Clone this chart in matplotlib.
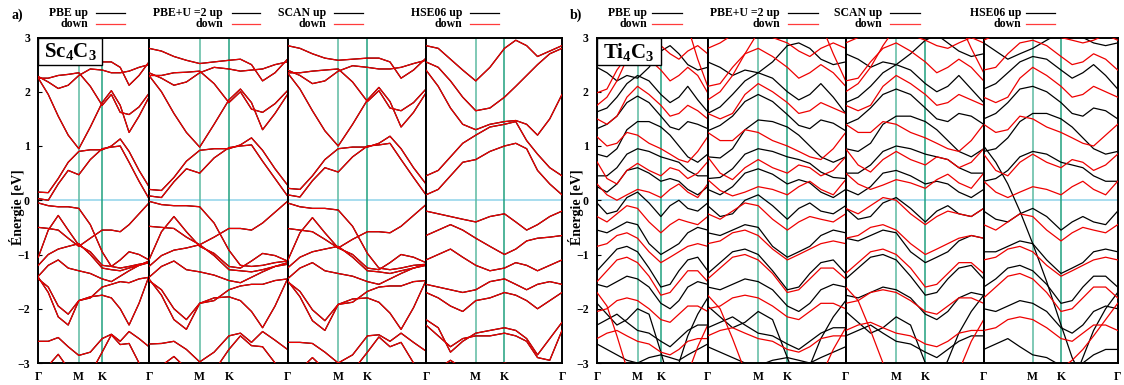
import matplotlib.pyplot as plt
from matplotlib.lines import Line2D
from matplotlib.patches import Rectangle

plt.rcParams['font.family'] = ['Liberation Serif', 'DejaVu Serif']
plt.rcParams['font.weight'] = 'bold'
plt.rcParams['mathtext.fontset'] = 'custom'
plt.rcParams['mathtext.rm'] = 'Liberation Serif:bold'
plt.rcParams['mathtext.it'] = 'Liberation Serif:bold'
plt.rcParams['mathtext.bf'] = 'Liberation Serif:bold'

W, H = 1124, 385

# k-path Γ-M-K-Γ, normalised length
kpath = [0.0, 0.09, 0.18, 0.27, 0.366, 0.47, 0.577, 0.66, 0.74, 0.82, 0.91, 1.0]
k_ticks = [0.0, 0.366, 0.577, 1.0]
k_names = ['Γ', 'M', 'K', 'Γ']
methods = ['PBE', 'PBE+U =2', 'SCAN', 'HSE06']

# Sc4C3 (non magnetic: up == down)
sc_pbe = [
    [2.75, 2.72, 2.62, 2.55, 2.50, 2.52, 2.55, 2.55, 2.45, 2.12, 2.30, 2.55],
    [2.28, 2.18, 2.06, 2.12, 2.30, 2.42, 2.40, 2.35, 2.35, 2.38, 2.45, 2.50],
    [2.25, 1.95, 1.55, 1.20, 0.95, 1.35, 1.80, 2.02, 1.75, 1.25, 1.55, 1.90],
    [2.25, 2.25, 2.30, 2.32, 2.35, 2.10, 1.75, 1.95, 1.62, 1.58, 1.72, 1.97],
    [0.15, 0.14, 0.40, 0.70, 0.90, 0.93, 0.93, 1.00, 1.13, 0.90, 0.55, 0.25],
    [0.03, 0.00, 0.30, 0.55, 0.47, 0.75, 0.95, 0.98, 1.00, 0.70, 0.35, 0.03],
    [-0.05, -0.10, -0.12, -0.12, -0.15, -0.45, -0.95, -1.22, -1.25, -1.22, -1.18, -1.15],
    [-0.50, -0.52, -0.55, -0.70, -0.85, -0.70, -0.55, -0.55, -0.58, -0.45, -0.25, -0.05],
    [-1.05, -0.55, -0.28, -0.55, -0.83, -0.95, -1.20, -1.22, -1.10, -0.95, -1.00, -1.10],
    [-1.20, -1.00, -0.90, -0.85, -0.80, -1.00, -1.25, -1.28, -1.30, -1.25, -1.20, -1.15],
    [-1.40, -1.20, -1.10, -1.25, -1.30, -1.35, -1.45, -1.50, -1.40, -1.30, -1.20, -1.12],
    [-1.45, -1.60, -1.95, -2.10, -1.85, -1.78, -1.75, -1.80, -2.00, -2.30, -1.90, -1.40],
    [-1.42, -1.70, -2.15, -2.30, -1.85, -1.80, -1.60, -1.55, -1.50, -1.52, -1.45, -1.42],
    [-2.60, -2.60, -2.53, -2.70, -2.86, -2.80, -2.55, -2.47, -2.60, -2.42, -2.55, -2.70],
    [-3.20, -3.05, -2.84, -3.10, -3.30, -3.20, -2.80, -2.48, -2.66, -2.64, -3.00, -3.30],
]
sc_pbeu = [
    [2.80, 2.75, 2.65, 2.58, 2.52, 2.55, 2.58, 2.60, 2.50, 2.20, 2.35, 2.60],
    [2.35, 2.25, 2.12, 2.18, 2.35, 2.45, 2.42, 2.38, 2.40, 2.42, 2.50, 2.55],
    [2.30, 2.00, 1.60, 1.25, 0.98, 1.40, 1.85, 2.05, 1.80, 1.30, 1.60, 1.95],
    [2.30, 2.30, 2.35, 2.36, 2.38, 2.15, 1.80, 2.00, 1.68, 1.62, 1.78, 2.02],
    [0.20, 0.18, 0.42, 0.72, 0.92, 0.95, 0.95, 1.02, 1.15, 0.92, 0.58, 0.28],
    [0.08, 0.05, 0.34, 0.58, 0.50, 0.78, 0.97, 1.00, 1.02, 0.72, 0.40, 0.08],
    [-0.02, -0.08, -0.10, -0.10, -0.12, -0.42, -0.92, -1.20, -1.22, -1.20, -1.15, -1.12],
    [-0.48, -0.50, -0.52, -0.68, -0.82, -0.68, -0.52, -0.52, -0.55, -0.42, -0.22, -0.02],
    [-1.10, -0.58, -0.30, -0.58, -0.85, -0.98, -1.22, -1.25, -1.12, -0.98, -1.02, -1.12],
    [-1.22, -1.02, -0.92, -0.88, -0.82, -1.02, -1.28, -1.30, -1.32, -1.28, -1.22, -1.18],
    [-1.42, -1.22, -1.12, -1.28, -1.32, -1.38, -1.48, -1.52, -1.42, -1.32, -1.22, -1.15],
    [-1.48, -1.65, -2.00, -2.20, -1.90, -1.80, -1.78, -1.85, -2.05, -2.35, -1.95, -1.45],
    [-1.45, -1.75, -2.20, -2.38, -1.90, -1.85, -1.65, -1.58, -1.55, -1.55, -1.48, -1.45],
    [-2.65, -2.64, -2.60, -2.75, -2.98, -2.80, -2.50, -2.45, -2.62, -2.42, -2.58, -2.75],
    [-3.25, -3.05, -2.88, -3.10, -3.30, -3.15, -2.75, -2.50, -2.68, -2.70, -3.00, -3.30],
]
sc_scan = [
    [2.85, 2.80, 2.70, 2.62, 2.58, 2.60, 2.62, 2.62, 2.55, 2.25, 2.40, 2.62],
    [2.40, 2.30, 2.15, 2.20, 2.38, 2.48, 2.45, 2.42, 2.42, 2.45, 2.52, 2.58],
    [2.35, 2.05, 1.65, 1.28, 1.00, 1.40, 1.85, 2.08, 1.82, 1.35, 1.62, 1.98],
    [2.35, 2.35, 2.38, 2.40, 2.42, 2.18, 1.82, 2.02, 1.70, 1.65, 1.80, 2.05],
    [0.22, 0.20, 0.45, 0.75, 0.95, 0.98, 0.98, 1.05, 1.18, 0.95, 0.60, 0.30],
    [0.10, 0.06, 0.36, 0.60, 0.52, 0.80, 1.00, 1.02, 1.05, 0.75, 0.42, 0.10],
    [-0.05, -0.12, -0.15, -0.15, -0.18, -0.48, -0.98, -1.25, -1.28, -1.25, -1.20, -1.18],
    [-0.52, -0.55, -0.58, -0.72, -0.88, -0.72, -0.58, -0.58, -0.60, -0.48, -0.28, -0.08],
    [-1.12, -0.60, -0.32, -0.60, -0.88, -1.00, -1.25, -1.28, -1.15, -1.00, -1.05, -1.15],
    [-1.25, -1.05, -0.95, -0.90, -0.85, -1.05, -1.30, -1.32, -1.35, -1.30, -1.25, -1.20],
    [-1.45, -1.25, -1.15, -1.30, -1.35, -1.40, -1.50, -1.55, -1.45, -1.35, -1.25, -1.18],
    [-1.50, -1.68, -2.02, -2.22, -1.92, -1.82, -1.80, -1.88, -2.08, -2.38, -1.98, -1.48],
    [-1.48, -1.78, -2.22, -2.40, -1.92, -1.88, -1.68, -1.60, -1.58, -1.58, -1.50, -1.48],
    [-2.62, -2.62, -2.64, -2.80, -3.00, -2.85, -2.50, -2.48, -2.60, -2.45, -2.62, -2.78],
    [-3.30, -3.12, -2.90, -3.12, -3.30, -3.15, -2.80, -2.52, -2.70, -2.62, -3.00, -3.30],
]
sc_hse = [
    [2.85, 2.80, 2.60, 2.40, 2.20, 2.45, 2.80, 2.95, 2.85, 2.65, 2.75, 2.85],
    [2.55, 2.45, 2.20, 1.90, 1.65, 1.70, 1.90, 2.10, 2.30, 2.50, 2.70, 2.80],
    [2.40, 2.10, 1.70, 1.40, 1.30, 1.40, 1.45, 1.47, 1.40, 1.20, 1.50, 1.95],
    [0.45, 0.55, 0.80, 1.05, 1.20, 1.35, 1.40, 1.45, 1.10, 0.85, 0.60, 0.45],
    [0.10, 0.20, 0.45, 0.70, 0.75, 0.90, 1.00, 1.05, 0.95, 0.55, 0.30, 0.10],
    [-0.20, -0.25, -0.30, -0.35, -0.40, -0.30, -0.25, -0.40, -0.55, -0.45, -0.30, -0.20],
    [-0.65, -0.55, -0.45, -0.55, -0.70, -0.85, -1.00, -0.90, -0.75, -0.70, -0.68, -0.65],
    [-1.10, -1.00, -0.90, -1.05, -1.20, -1.30, -1.25, -1.15, -1.20, -1.30, -1.20, -1.10],
    [-1.55, -1.60, -1.65, -1.70, -1.65, -1.50, -1.45, -1.55, -1.65, -1.55, -1.50, -1.55],
    [-1.70, -1.80, -1.95, -2.05, -1.85, -1.80, -1.70, -1.75, -1.85, -2.00, -1.85, -1.70],
    [-2.20, -2.35, -2.80, -2.60, -2.45, -2.40, -2.35, -2.40, -2.55, -2.85, -2.55, -2.25],
    [-2.30, -2.50, -2.70, -2.55, -2.50, -2.50, -2.45, -2.50, -2.60, -2.90, -2.95, -2.40],
    [-3.30, -3.10, -2.95, -3.10, -3.20, -3.10, -3.00, -3.05, -3.15, -3.30, -3.20, -3.30],
]

# Ti4C3 spin up / spin down
ti_pbe_up = [
    [2.45, 2.35, 2.20, 2.30, 2.25, 2.45, 2.75, 2.85, 2.70, 2.50, 2.40, 2.45],
    [1.63, 1.70, 1.90, 2.15, 2.30, 2.20, 1.95, 1.80, 1.90, 2.10, 1.85, 1.63],
    [1.32, 1.40, 1.55, 1.80, 1.92, 1.80, 1.55, 1.35, 1.30, 1.45, 1.40, 1.32],
    [0.85, 0.80, 0.95, 1.30, 1.45, 1.45, 1.35, 1.20, 1.00, 0.80, 0.70, 0.85],
    [0.45, 0.45, 0.60, 0.85, 0.95, 0.90, 0.80, 0.75, 0.70, 0.55, 0.45, 0.45],
    [0.25, 0.15, 0.30, 0.55, 0.60, 0.50, 0.35, 0.40, 0.35, 0.20, 0.10, 0.25],
    [-0.05, -0.25, -0.20, 0.05, 0.15, -0.05, -0.30, -0.10, 0.00, -0.15, -0.20, -0.05],
    [-0.55, -0.60, -0.50, -0.40, -0.45, -0.80, -1.00, -0.90, -0.80, -0.60, -0.50, -0.55],
    [-1.30, -1.10, -0.90, -0.85, -0.95, -1.25, -1.60, -1.55, -1.30, -1.10, -1.05, -1.30],
    [-1.55, -1.60, -1.50, -1.40, -1.45, -1.60, -1.90, -2.00, -1.85, -1.60, -1.50, -1.55],
    [-2.30, -2.20, -2.10, -2.25, -2.40, -2.45, -2.60, -2.70, -2.55, -2.40, -2.30, -2.30],
    [-2.65, -2.75, -2.85, -2.95, -3.00, -2.90, -2.85, -2.90, -2.95, -2.85, -2.75, -2.65],
    [-1.90, -2.10, -2.30, -2.20, -2.00, -2.10, -2.80, -3.40, -3.50, -3.50, -3.50, -3.50],
    [-3.50, -3.50, -3.50, -3.50, -3.50, -3.50, -3.50, -3.40, -3.00, -2.50, -2.10, -1.80],
]
ti_pbe_dn = [
    [2.70, 2.80, 2.95, 3.10, 3.05, 2.95, 2.85, 2.70, 2.60, 2.75, 2.85, 2.70],
    [1.98, 2.05, 2.40, 2.65, 2.75, 2.60, 2.40, 2.20, 2.30, 2.45, 2.30, 1.98],
    [1.50, 1.40, 1.55, 1.90, 2.10, 1.95, 1.75, 1.55, 1.60, 1.75, 1.65, 1.50],
    [1.17, 1.00, 1.05, 1.25, 1.20, 1.05, 0.95, 0.85, 0.75, 0.70, 0.90, 1.17],
    [0.71, 0.40, 0.30, 0.55, 0.68, 0.55, 0.45, 0.60, 0.55, 0.40, 0.50, 0.71],
    [0.30, 0.10, 0.00, 0.10, 0.20, 0.15, 0.05, 0.20, 0.30, 0.15, 0.05, 0.30],
    [-0.30, -0.40, -0.25, -0.10, -0.15, -0.40, -0.60, -0.45, -0.35, -0.40, -0.45, -0.30],
    [-0.85, -0.80, -0.65, -0.60, -0.70, -0.95, -1.15, -1.05, -0.95, -0.85, -0.80, -0.85],
    [-1.50, -1.30, -1.10, -1.05, -1.15, -1.40, -1.75, -1.70, -1.50, -1.30, -1.30, -1.50],
    [-2.05, -2.00, -1.85, -1.80, -1.85, -2.00, -2.20, -2.25, -2.10, -1.95, -1.95, -2.05],
    [-2.55, -2.45, -2.40, -2.50, -2.60, -2.65, -2.80, -2.85, -2.75, -2.60, -2.55, -2.55],
    [1.75, 1.90, 2.20, 2.60, 3.00, 3.30, 3.40, 3.40, 3.40, 3.20, 2.60, 2.10],
    [-1.70, -1.95, -2.50, -3.10, -3.40, -3.40, -3.40, -3.40, -3.40, -3.20, -2.70, -2.30],
]
ti_pbeu_up = [
    [2.55, 2.45, 2.30, 2.40, 2.35, 2.55, 2.85, 2.90, 2.80, 2.60, 2.50, 2.55],
    [1.60, 1.72, 1.95, 2.20, 2.35, 2.25, 2.00, 1.85, 1.95, 2.15, 1.90, 1.60],
    [1.28, 1.38, 1.55, 1.82, 1.95, 1.82, 1.58, 1.38, 1.32, 1.48, 1.42, 1.28],
    [0.80, 0.78, 0.95, 1.30, 1.48, 1.45, 1.35, 1.20, 1.00, 0.80, 0.70, 0.80],
    [0.40, 0.42, 0.58, 0.85, 0.95, 0.90, 0.80, 0.75, 0.68, 0.52, 0.42, 0.40],
    [0.20, 0.10, 0.25, 0.50, 0.58, 0.48, 0.30, 0.38, 0.32, 0.15, 0.05, 0.20],
    [-0.10, -0.30, -0.25, 0.00, 0.10, -0.10, -0.35, -0.15, -0.05, -0.20, -0.25, -0.10],
    [-0.60, -0.65, -0.55, -0.45, -0.50, -0.85, -1.05, -0.95, -0.85, -0.65, -0.55, -0.60],
    [-1.35, -1.15, -0.95, -0.90, -1.00, -1.30, -1.65, -1.60, -1.35, -1.15, -1.10, -1.35],
    [-1.60, -1.65, -1.55, -1.45, -1.50, -1.65, -1.95, -2.05, -1.90, -1.65, -1.55, -1.60],
    [-2.35, -2.25, -2.15, -2.30, -2.45, -2.50, -2.65, -2.75, -2.60, -2.45, -2.35, -2.35],
    [-2.70, -2.80, -2.90, -3.00, -3.05, -2.95, -2.90, -2.95, -3.00, -2.90, -2.80, -2.70],
    [-1.95, -2.15, -2.35, -2.25, -2.05, -2.20, -2.90, -3.45, -3.50, -3.50, -3.50, -3.50],
    [-3.50, -3.50, -3.50, -3.50, -3.50, -3.50, -3.50, -3.45, -3.05, -2.55, -2.15, -1.85],
]
ti_pbeu_dn = [
    [2.80, 2.90, 3.05, 3.15, 3.10, 3.00, 2.90, 2.75, 2.65, 2.80, 2.90, 2.80],
    [2.10, 2.15, 2.45, 2.70, 2.80, 2.65, 2.45, 2.25, 2.35, 2.50, 2.35, 2.10],
    [1.60, 1.50, 1.60, 1.95, 2.15, 2.00, 1.80, 1.60, 1.65, 1.80, 1.70, 1.60],
    [1.25, 1.10, 1.10, 1.30, 1.25, 1.10, 1.00, 0.90, 0.80, 0.75, 0.95, 1.25],
    [0.80, 0.50, 0.38, 0.60, 0.75, 0.60, 0.50, 0.65, 0.60, 0.45, 0.55, 0.80],
    [0.38, 0.18, 0.08, 0.15, 0.25, 0.20, 0.10, 0.25, 0.35, 0.20, 0.10, 0.38],
    [-0.25, -0.35, -0.20, -0.05, -0.10, -0.35, -0.55, -0.40, -0.30, -0.35, -0.40, -0.25],
    [-0.80, -0.75, -0.60, -0.55, -0.65, -0.90, -1.10, -1.00, -0.90, -0.80, -0.75, -0.80],
    [-1.45, -1.25, -1.05, -1.00, -1.10, -1.35, -1.70, -1.65, -1.45, -1.25, -1.25, -1.45],
    [-2.00, -1.95, -1.80, -1.75, -1.80, -1.95, -2.15, -2.20, -2.05, -1.90, -1.90, -2.00],
    [-2.50, -2.40, -2.35, -2.45, -2.55, -2.60, -2.75, -2.80, -2.70, -2.55, -2.50, -2.50],
    [1.85, 2.00, 2.30, 2.70, 3.10, 3.35, 3.40, 3.40, 3.40, 3.25, 2.70, 2.20],
    [-1.75, -2.00, -2.55, -3.15, -3.40, -3.40, -3.40, -3.40, -3.40, -3.25, -2.75, -2.35],
]
ti_scan_up = [
    [2.70, 2.60, 2.45, 2.55, 2.50, 2.70, 2.95, 3.05, 2.90, 2.75, 2.65, 2.70],
    [1.80, 1.90, 2.10, 2.35, 2.50, 2.40, 2.15, 2.00, 2.10, 2.30, 2.05, 1.80],
    [1.40, 1.50, 1.70, 1.95, 2.05, 1.95, 1.70, 1.50, 1.45, 1.60, 1.55, 1.40],
    [0.95, 0.90, 1.05, 1.40, 1.55, 1.55, 1.45, 1.30, 1.10, 0.90, 0.80, 0.95],
    [0.50, 0.50, 0.65, 0.90, 1.00, 0.95, 0.85, 0.80, 0.75, 0.60, 0.50, 0.50],
    [0.20, 0.10, 0.25, 0.50, 0.55, 0.45, 0.30, 0.35, 0.30, 0.15, 0.05, 0.20],
    [-0.15, -0.35, -0.30, -0.05, 0.05, -0.15, -0.40, -0.20, -0.10, -0.25, -0.30, -0.15],
    [-0.70, -0.75, -0.65, -0.55, -0.60, -0.95, -1.15, -1.05, -0.95, -0.75, -0.65, -0.70],
    [-1.45, -1.25, -1.05, -1.00, -1.10, -1.40, -1.75, -1.70, -1.45, -1.25, -1.20, -1.45],
    [-1.75, -1.80, -1.70, -1.60, -1.65, -1.80, -2.10, -2.20, -2.05, -1.80, -1.70, -1.75],
    [-2.50, -2.40, -2.30, -2.45, -2.60, -2.65, -2.80, -2.90, -2.75, -2.60, -2.50, -2.50],
    [-2.05, -2.25, -2.45, -2.35, -2.15, -2.30, -3.00, -3.45, -3.50, -3.50, -3.50, -3.50],
    [-3.50, -3.50, -3.50, -3.50, -3.50, -3.50, -3.50, -3.40, -2.95, -2.45, -2.05, -1.75],
]
ti_scan_dn = [
    [2.90, 3.00, 3.10, 3.20, 3.15, 3.05, 2.95, 2.85, 2.80, 2.90, 3.00, 2.90],
    [2.20, 2.25, 2.55, 2.80, 2.90, 2.75, 2.55, 2.35, 2.45, 2.60, 2.45, 2.20],
    [1.75, 1.65, 1.75, 2.10, 2.30, 2.15, 1.95, 1.75, 1.80, 1.95, 1.85, 1.75],
    [1.40, 1.25, 1.25, 1.45, 1.40, 1.25, 1.15, 1.05, 0.95, 0.90, 1.10, 1.40],
    [0.95, 0.65, 0.52, 0.75, 0.90, 0.75, 0.65, 0.80, 0.75, 0.60, 0.70, 0.95],
    [0.50, 0.30, 0.20, 0.28, 0.38, 0.32, 0.22, 0.38, 0.48, 0.32, 0.22, 0.50],
    [-0.15, -0.25, -0.10, 0.05, 0.00, -0.25, -0.45, -0.30, -0.20, -0.25, -0.30, -0.15],
    [-0.70, -0.65, -0.50, -0.45, -0.55, -0.80, -1.00, -0.90, -0.80, -0.70, -0.65, -0.70],
    [-1.35, -1.15, -0.95, -0.90, -1.00, -1.25, -1.60, -1.55, -1.35, -1.15, -1.15, -1.35],
    [-1.90, -1.85, -1.70, -1.65, -1.70, -1.85, -2.05, -2.10, -1.95, -1.80, -1.80, -1.90],
    [-2.40, -2.30, -2.25, -2.35, -2.45, -2.50, -2.65, -2.70, -2.60, -2.45, -2.40, -2.40],
    [2.00, 2.15, 2.45, 2.85, 3.20, 3.40, 3.40, 3.40, 3.40, 3.30, 2.80, 2.35],
    [-1.60, -1.85, -2.40, -3.00, -3.40, -3.40, -3.40, -3.40, -3.40, -3.15, -2.60, -2.20],
]
ti_hse_up = [
    [2.90, 2.75, 2.60, 2.70, 2.80, 2.95, 3.10, 3.10, 3.00, 2.90, 2.85, 2.90],
    [2.05, 2.15, 2.35, 2.55, 2.65, 2.60, 2.40, 2.25, 2.35, 2.50, 2.30, 2.05],
    [1.50, 1.60, 1.80, 2.05, 2.10, 2.00, 1.80, 1.60, 1.55, 1.70, 1.65, 1.50],
    [0.90, 0.95, 1.15, 1.45, 1.60, 1.60, 1.50, 1.35, 1.15, 0.95, 0.85, 0.90],
    [0.35, 0.40, 0.55, 0.80, 0.90, 0.85, 0.70, 0.65, 0.60, 0.45, 0.35, 0.35],
    [-0.20, -0.35, -0.40, -0.25, -0.15, -0.30, -0.55, -0.40, -0.30, -0.40, -0.45, -0.20],
    [-0.95, -0.95, -0.85, -0.75, -0.80, -1.10, -1.35, -1.25, -1.15, -0.95, -0.90, -0.95],
    [-1.60, -1.45, -1.25, -1.20, -1.30, -1.55, -1.90, -1.85, -1.60, -1.40, -1.40, -1.60],
    [-2.00, -2.05, -1.95, -1.85, -1.90, -2.05, -2.35, -2.45, -2.30, -2.05, -1.95, -2.00],
    [-2.75, -2.65, -2.55, -2.70, -2.85, -2.90, -3.05, -3.10, -3.00, -2.85, -2.75, -2.75],
    [1.00, 0.70, 0.30, -0.20, -0.80, -1.50, -2.30, -2.90, -3.30, -3.50, -3.50, -3.50],
    [-3.50, -3.50, -3.50, -3.50, -3.50, -3.50, -3.50, -3.40, -2.90, -2.40, -2.00, -1.70],
]
ti_hse_dn = [
    [2.95, 3.05, 3.15, 3.25, 3.20, 3.10, 3.00, 2.95, 2.90, 2.95, 3.05, 2.95],
    [2.40, 2.45, 2.70, 2.90, 2.95, 2.85, 2.65, 2.50, 2.55, 2.70, 2.60, 2.40],
    [1.90, 1.80, 1.90, 2.25, 2.45, 2.30, 2.10, 1.90, 1.95, 2.10, 2.00, 1.90],
    [1.40, 1.25, 1.30, 1.55, 1.50, 1.35, 1.25, 1.15, 1.05, 1.00, 1.20, 1.40],
    [0.85, 0.55, 0.45, 0.70, 0.85, 0.70, 0.60, 0.75, 0.70, 0.55, 0.65, 0.85],
    [0.35, 0.15, 0.05, 0.15, 0.25, 0.20, 0.10, 0.25, 0.35, 0.20, 0.10, 0.35],
    [-0.45, -0.55, -0.40, -0.25, -0.30, -0.55, -0.75, -0.60, -0.50, -0.55, -0.60, -0.45],
    [-1.10, -1.05, -0.90, -0.85, -0.95, -1.20, -1.40, -1.30, -1.20, -1.10, -1.05, -1.10],
    [-1.80, -1.60, -1.40, -1.35, -1.45, -1.70, -2.05, -2.00, -1.80, -1.60, -1.60, -1.80],
    [-2.40, -2.35, -2.20, -2.15, -2.20, -2.35, -2.55, -2.60, -2.45, -2.30, -2.30, -2.40],
    [-3.40, -3.45, -3.45, -3.40, -3.30, -3.20, -3.10, -2.95, -2.75, -2.50, -2.20, -1.90],
]

sc_sets = [(sc_pbe, sc_pbe), (sc_pbeu, sc_pbeu), (sc_scan, sc_scan), (sc_hse, sc_hse)]
ti_sets = [(ti_pbe_up, ti_pbe_dn), (ti_pbeu_up, ti_pbeu_dn),
           (ti_scan_up, ti_scan_dn), (ti_hse_up, ti_hse_dn)]

fig = plt.figure(figsize=(W / 100, H / 100), dpi=100)


def draw_group(x_edges, sets, compound, tag, legend_x):
    axes = []
    for i, (up, dn) in enumerate(sets):
        x0, x1 = x_edges[i], x_edges[i + 1]
        ax = fig.add_axes([x0 / W, 22 / H, (x1 - x0) / W, 325.5 / H])
        ax.axhline(0, color='#8fd3ea', lw=1.1, zorder=0.5)
        ax.axvline(k_ticks[1], color='#5dbba2', lw=1.1, zorder=0.6)
        ax.axvline(k_ticks[2], color='#1fa07e', lw=1.1, zorder=0.6)
        for band in up:
            ax.plot(kpath, band, color='black', lw=0.9, zorder=2)
        for band in dn:
            ax.plot(kpath, band, color='#ee0000', lw=0.9, zorder=3)
        ax.set_xlim(0, 1)
        ax.set_ylim(-3, 3)
        ax.set_xticks(k_ticks)
        names = k_names if i == 3 else k_names[:3] + ['']
        ax.set_xticklabels(names, fontsize=8.5, fontweight='bold')
        ax.tick_params(axis='x', length=0, pad=6)
        if i == 0:
            ax.set_yticks(range(-3, 4))
            ax.set_yticklabels([str(v).replace('-', '−') for v in range(-3, 4)],
                               fontsize=8.5, fontweight='bold')
            ax.tick_params(axis='y', direction='in', length=3, pad=6)
            ax.add_patch(Rectangle((0, 2.5), k_ticks[2], 0.5, facecolor='white',
                                   edgecolor='black', lw=1.0, zorder=6))
            ax.text(k_ticks[2] / 2, 2.74, compound, ha='center', va='center',
                    fontsize=15, zorder=7)
        else:
            ax.set_yticks([])
        for s in ax.spines.values():
            s.set_linewidth(1.4)
        axes.append(ax)

    fig.text((x_edges[0] - 21) / W, 1 - 207 / H, 'Énergie [eV]', rotation=90,
             ha='center', va='center', fontsize=10)
    fig.text((x_edges[0] - 21) / W, 1 - 15 / H, tag, ha='center', va='center',
             fontsize=10)

    # legend: one column per method
    for name, (tx, lx0, lx1) in zip(methods, legend_x):
        fig.text(tx / W, 1 - 13 / H, name + ' up', ha='right', va='center', fontsize=8.5)
        fig.text(tx / W, 1 - 24 / H, 'down', ha='right', va='center', fontsize=8.5)
        fig.add_artist(Line2D([lx0 / W, lx1 / W], [1 - 13 / H] * 2, color='black', lw=0.9))
        fig.add_artist(Line2D([lx0 / W, lx1 / W], [1 - 24 / H] * 2, color='#ff3b3b', lw=0.9))
    return axes


draw_group([38.3, 149, 287.5, 426, 562], sc_sets, r'$\mathrm{Sc_4C_3}$', 'a)',
           [(88, 96, 125), (223, 232, 260), (326, 334, 363), (462, 470, 499)])
draw_group([597, 707.7, 845.7, 983.7, 1117.7], ti_sets, r'$\mathrm{Ti_4C_3}$', 'b)',
           [(647, 652, 682), (780, 788, 818), (882, 890, 920), (1021, 1026, 1055)])

fig.savefig('out.png', dpi=100)
